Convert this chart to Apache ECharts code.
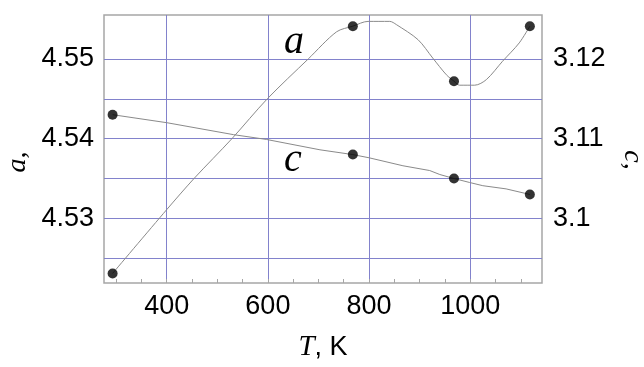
<!DOCTYPE html>
<html>
<head>
<meta charset="utf-8">
<script src="https://cdn.jsdelivr.net/npm/echarts@6/dist/echarts.min.js"></script>
<style>
html,body{margin:0;padding:0;background:#fff;}
#chart{width:644px;height:367px;}
</style>
</head>
<body>
<div id="chart"></div>
<script>
// ---- data ----
const tRange = [276, 1142];
const aRange = [4.5219, 4.5555];
const cRange = [3.0919, 3.1255];

const xLabelValues = [400, 600, 800, 1000];
const xMinorTicks = [300, 350, 400, 450, 500, 550, 600, 650, 700, 750, 800, 850, 900, 950, 1000, 1050, 1100];
const aLabelValues = [4.53, 4.54, 4.55];
const aGridValues = [4.525, 4.53, 4.535, 4.54, 4.545, 4.55];
const cLabelValues = [3.1, 3.11, 3.12];

const pointsT = [293, 768, 968, 1118];
const aPoints = [4.5231, 4.5541, 4.5472, 4.5541];
const cPoints = [3.1130, 3.1080, 3.1050, 3.1030];

const aCurveT = [293, 400, 454, 529, 599, 680, 736, 768, 798, 841, 854, 897, 926, 953, 968, 979, 1009, 1032, 1064, 1097, 1118];
const aCurve = [4.5231, 4.5311, 4.5350, 4.5400, 4.5450, 4.5500, 4.5534, 4.5541, 4.5547, 4.5547, 4.5543, 4.5524, 4.5501, 4.5480, 4.5472, 4.5467, 4.5467, 4.5474, 4.5497, 4.5520, 4.5541];

const cCurveT = [293, 400, 532, 597, 703, 768, 800, 867, 920, 940, 968, 999, 1025, 1071, 1118];
const cCurve = [3.1130, 3.1120, 3.1105, 3.1099, 3.1086, 3.1080, 3.1076, 3.1066, 3.1060, 3.1055, 3.1050, 3.1045, 3.1041, 3.1037, 3.1030];

const zip = (xs, ys) => xs.map((x, i) => [x, ys[i]]);

const gridColor = '#8282cc';
const frameColor = '#a6a6a6';
const lineColor = '#8a8a8a';
const labelFont = {fontFamily: 'Liberation Sans, Arial, sans-serif', fontSize: 27, color: '#000'};

const chart = echarts.init(document.getElementById('chart'), null, {renderer: 'canvas'});
chart.setOption({
  animation: false,
  backgroundColor: '#fff',
  grid: {left: 104, right: 102, top: 15, bottom: 81, show: true, borderColor: frameColor, borderWidth: 1.5, containLabel: false},
  xAxis: [{
    type: 'value', min: tRange[0], max: tRange[1],
    axisLine: {show: false},
    axisTick: {show: false, customValues: xLabelValues},
    axisLabel: Object.assign({customValues: xLabelValues, margin: 10, formatter: v => String(v)}, labelFont),
    splitLine: {show: true, lineStyle: {color: gridColor, width: 1}},
    name: '{i|T}{n|, K}', nameLocation: 'middle', nameGap: 50,
    nameTextStyle: {rich: {
      i: {fontFamily: 'Liberation Serif, Times New Roman, serif', fontStyle: 'italic', fontSize: 29, color: '#000'},
      n: {fontFamily: 'Liberation Sans, Arial, sans-serif', fontSize: 27, color: '#000'}
    }}
  }, {
    type: 'value', min: tRange[0], max: tRange[1], position: 'bottom',
    axisLine: {show: false},
    axisTick: {show: true, inside: true, length: 4, customValues: xMinorTicks, lineStyle: {color: frameColor, width: 1}},
    axisLabel: {show: false},
    splitLine: {show: false}
  }],
  yAxis: [{
    type: 'value', min: aRange[0], max: aRange[1],
    axisLine: {show: false},
    axisTick: {show: false, customValues: aGridValues},
    axisLabel: Object.assign({customValues: aLabelValues, margin: 10, formatter: v => String(+v.toFixed(3))}, labelFont),
    splitLine: {show: true, lineStyle: {color: gridColor, width: 1}}
  }, {
    type: 'value', min: cRange[0], max: cRange[1], position: 'right',
    axisLine: {show: false},
    axisTick: {show: false},
    axisLabel: Object.assign({customValues: cLabelValues, margin: 11, formatter: v => String(+v.toFixed(3))}, labelFont),
    splitLine: {show: false}
  }],
  graphic: [
    {type: 'text', x: 294, y: 42, style: {text: 'a', font: 'italic 40px "Liberation Serif", serif', fill: '#000', align: 'center', verticalAlign: 'middle'}, z: 100},
    {type: 'text', x: 293, y: 160, style: {text: 'c', font: 'italic 40px "Liberation Serif", serif', fill: '#000', align: 'center', verticalAlign: 'middle'}, z: 100},
    {type: 'text', x: 18, y: 162, rotation: Math.PI / 2, style: {text: 'a,', font: 'italic 28px "Liberation Serif", serif', fill: '#000', align: 'center', verticalAlign: 'middle'}, z: 100},
    {type: 'text', x: 632, y: 160, rotation: -Math.PI / 2, style: {text: 'c,', font: 'italic 28px "Liberation Serif", serif', fill: '#000', align: 'center', verticalAlign: 'middle'}, z: 100}
  ],
  series: [
    {type: 'line', name: 'a curve', xAxisIndex: 0, yAxisIndex: 0, data: zip(aCurveT, aCurve), smooth: 0.3, showSymbol: false, symbol: 'none', lineStyle: {color: lineColor, width: 1}, z: 3},
    {type: 'line', name: 'c curve', xAxisIndex: 0, yAxisIndex: 1, data: zip(cCurveT, cCurve), smooth: false, showSymbol: false, symbol: 'none', lineStyle: {color: lineColor, width: 1}, z: 3},
    {type: 'scatter', name: 'a', xAxisIndex: 0, yAxisIndex: 0, data: zip(pointsT, aPoints), symbol: 'circle', symbolSize: 10, itemStyle: {color: '#000'}, z: 5},
    {type: 'scatter', name: 'c', xAxisIndex: 0, yAxisIndex: 1, data: zip(pointsT, cPoints), symbol: 'circle', symbolSize: 10, itemStyle: {color: '#000'}, z: 5}
  ]
});
</script>
</body>
</html>
